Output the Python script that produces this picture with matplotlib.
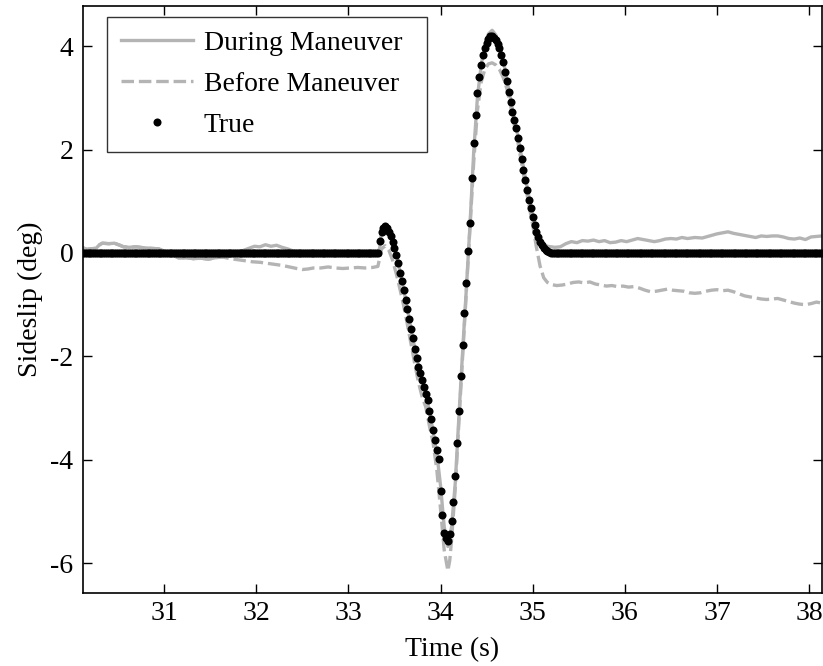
import numpy as np
import matplotlib
matplotlib.use("Agg")
import matplotlib.pyplot as plt

plt.rcParams['font.family'] = ['Liberation Serif', 'DejaVu Serif']
plt.rcParams['lines.scale_dashes'] = False
plt.rcParams['axes.unicode_minus'] = False

# Estimated sideslip, filter tuned during the maneuver (solid)
during_t = [30.12, 30.16, 30.20, 30.26, 30.30, 30.33, 30.40, 30.46, 30.52, 30.56,
            30.62, 30.70, 30.78, 30.86, 30.94, 31.00, 31.06, 31.12, 31.16, 31.24,
            31.32, 31.40, 31.48, 31.56, 31.64, 31.72, 31.80, 31.86, 31.92, 31.98,
            32.04, 32.10, 32.16, 32.22, 32.28, 32.34, 32.40, 32.50, 32.60, 32.70,
            32.80, 32.90, 33.00, 33.10, 33.20, 33.30, 33.32, 33.34, 33.36, 33.40,
            33.44, 33.48, 33.52, 33.56, 33.60, 33.64, 33.68, 33.72, 33.76, 33.80,
            33.84, 33.88, 33.92, 33.96, 34.00, 34.04, 34.08, 34.12, 34.16, 34.20,
            34.24, 34.28, 34.32, 34.36, 34.40, 34.44, 34.48, 34.52, 34.56, 34.60,
            34.64, 34.68, 34.72, 34.76, 34.80, 34.84, 34.88, 34.92, 34.96, 35.00,
            35.04, 35.08, 35.12, 35.16, 35.20, 35.24, 35.30, 35.36, 35.42, 35.48,
            35.54, 35.60, 35.66, 35.72, 35.78, 35.84, 35.90, 35.96, 36.02, 36.08,
            36.14, 36.20, 36.26, 36.32, 36.38, 36.44, 36.50, 36.56, 36.62, 36.68,
            36.76, 36.84, 36.92, 37.00, 37.06, 37.12, 37.18, 37.24, 37.30, 37.36,
            37.42, 37.48, 37.54, 37.60, 37.66, 37.72, 37.78, 37.84, 37.90, 37.96,
            38.02, 38.08, 38.14]
during_beta = [0.10, 0.07, 0.08, 0.09, 0.16, 0.19, 0.18, 0.19, 0.15, 0.12,
               0.11, 0.12, 0.10, 0.09, 0.08, 0.04, 0.00, -0.06, -0.10, -0.09,
               -0.11, -0.10, -0.12, -0.09, -0.07, -0.05, 0.00, 0.05, 0.09, 0.13,
               0.12, 0.16, 0.13, 0.15, 0.11, 0.08, 0.04, 0.02, 0.03, 0.01,
               0.00, 0.02, 0.01, -0.01, 0.01, 0.00, 0.00, 0.10, 0.42, 0.55,
               0.45, 0.25, -0.02, -0.36, -0.70, -1.08, -1.46, -1.84, -2.18, -2.46,
               -2.74, -3.06, -3.46, -3.88, -4.50, -5.30, -5.68, -5.30, -4.45, -3.15,
               -1.90, -0.70, 0.55, 1.95, 3.00, 3.62, 4.02, 4.24, 4.31, 4.22,
               4.02, 3.74, 3.36, 2.97, 2.60, 2.26, 1.86, 1.46, 1.08, 0.74,
               0.45, 0.26, 0.17, 0.13, 0.12, 0.11, 0.12, 0.18, 0.22, 0.20,
               0.24, 0.23, 0.25, 0.22, 0.24, 0.20, 0.21, 0.24, 0.22, 0.25,
               0.28, 0.26, 0.24, 0.22, 0.24, 0.27, 0.28, 0.27, 0.30, 0.28,
               0.30, 0.29, 0.33, 0.37, 0.39, 0.41, 0.38, 0.36, 0.34, 0.32,
               0.30, 0.33, 0.32, 0.33, 0.33, 0.31, 0.28, 0.27, 0.29, 0.26,
               0.31, 0.32, 0.33]

# Estimated sideslip, filter tuned before the maneuver (dashed)
before_t = [30.12, 30.16, 30.20, 30.26, 30.30, 30.33, 30.40, 30.46, 30.52, 30.56,
            30.62, 30.70, 30.78, 30.86, 30.94, 31.00, 31.06, 31.12, 31.16, 31.24,
            31.32, 31.40, 31.48, 31.56, 31.64, 31.72, 31.80, 31.88, 31.96, 32.04,
            32.12, 32.20, 32.28, 32.36, 32.44, 32.50, 32.56, 32.62, 32.70, 32.78,
            32.86, 32.94, 33.02, 33.10, 33.18, 33.26, 33.32, 33.34, 33.36, 33.40,
            33.44, 33.48, 33.52, 33.56, 33.60, 33.64, 33.68, 33.72, 33.76, 33.80,
            33.84, 33.88, 33.92, 33.96, 34.00, 34.04, 34.08, 34.10, 34.12, 34.16,
            34.20, 34.24, 34.28, 34.32, 34.36, 34.40, 34.44, 34.48, 34.52, 34.56,
            34.60, 34.64, 34.68, 34.72, 34.76, 34.80, 34.84, 34.88, 34.92, 34.96,
            35.00, 35.04, 35.08, 35.12, 35.16, 35.20, 35.26, 35.32, 35.38, 35.44,
            35.50, 35.56, 35.62, 35.68, 35.74, 35.80, 35.86, 35.92, 35.98, 36.04,
            36.10, 36.16, 36.22, 36.28, 36.34, 36.40, 36.46, 36.52, 36.58, 36.64,
            36.70, 36.76, 36.82, 36.88, 36.94, 37.00, 37.06, 37.12, 37.18, 37.24,
            37.30, 37.36, 37.42, 37.48, 37.54, 37.60, 37.66, 37.72, 37.78, 37.84,
            37.90, 37.96, 38.02, 38.08, 38.14]
before_beta = [0.10, 0.07, 0.08, 0.09, 0.16, 0.19, 0.18, 0.19, 0.15, 0.12,
               0.11, 0.12, 0.10, 0.09, 0.08, 0.04, 0.00, -0.06, -0.10, -0.09,
               -0.11, -0.10, -0.12, -0.09, -0.08, -0.11, -0.13, -0.15, -0.17, -0.18,
               -0.20, -0.22, -0.24, -0.27, -0.30, -0.32, -0.31, -0.29, -0.29, -0.27,
               -0.29, -0.30, -0.29, -0.28, -0.29, -0.28, -0.26, -0.10, 0.08, 0.14,
               0.05, -0.14, -0.40, -0.70, -1.02, -1.38, -1.76, -2.14, -2.50, -2.78,
               -2.98, -3.35, -3.68, -4.20, -4.95, -5.75, -6.15, -5.95, -5.55, -4.55,
               -3.25, -2.00, -0.75, 0.50, 1.75, 2.75, 3.30, 3.55, 3.66, 3.68,
               3.64, 3.55, 3.40, 3.18, 2.85, 2.48, 2.14, 1.74, 1.32, 0.92,
               0.55, 0.12, -0.25, -0.48, -0.57, -0.61, -0.63, -0.62, -0.60, -0.57,
               -0.56, -0.58, -0.56, -0.60, -0.62, -0.64, -0.63, -0.65, -0.64, -0.66,
               -0.65, -0.68, -0.72, -0.75, -0.74, -0.72, -0.70, -0.72, -0.73, -0.74,
               -0.77, -0.78, -0.77, -0.74, -0.72, -0.71, -0.73, -0.72, -0.75, -0.79,
               -0.83, -0.85, -0.87, -0.89, -0.90, -0.89, -0.88, -0.91, -0.94, -0.97,
               -0.99, -1.00, -0.98, -0.95, -0.97]

# True sideslip, sampled every 0.02 s; zero outside the maneuver
true_start, true_end, true_dt = 30.12, 38.14, 0.02
maneuver_start = 33.34
true_maneuver = [0.24, 0.40, 0.49, 0.52, 0.49, 0.41, 0.32, 0.22, 0.09, -0.04,
                 -0.20, -0.39, -0.55, -0.72, -0.91, -1.09, -1.28, -1.47, -1.65, -1.85,
                 -2.04, -2.20, -2.33, -2.46, -2.60, -2.72, -2.85, -3.05, -3.22, -3.43,
                 -3.62, -3.81, -3.99, -4.61, -5.08, -5.41, -5.52, -5.57, -5.44, -5.18,
                 -4.81, -4.32, -3.68, -3.05, -2.39, -1.79, -1.17, -0.59, 0.03, 0.59,
                 1.45, 2.13, 2.67, 3.10, 3.40, 3.64, 3.83, 3.96, 4.07, 4.15,
                 4.19, 4.20, 4.17, 4.12, 4.05, 3.96, 3.84, 3.70, 3.51, 3.32,
                 3.12, 2.93, 2.73, 2.57, 2.41, 2.22, 2.03, 1.81, 1.61, 1.41,
                 1.22, 1.03, 0.87, 0.70, 0.54, 0.40, 0.30, 0.22, 0.15, 0.10,
                 0.06, 0.03, 0.01]

n_true = int(round((true_end - true_start) / true_dt)) + 1
true_t = true_start + true_dt * np.arange(n_true)
true_beta = np.zeros(n_true)
i0 = int(round((maneuver_start - true_start) / true_dt))
true_beta[i0:i0 + len(true_maneuver)] = true_maneuver

gray = '#b4b4b4'

fig = plt.figure(figsize=(8.23, 6.66), dpi=100)
ax = fig.add_axes([83 / 823, 73 / 666, 739 / 823, 587 / 666])

ax.plot(during_t, during_beta, color=gray, lw=2.4, label='During Maneuver')
ax.plot(before_t, before_beta, color=gray, lw=2.4, linestyle='--',
        dashes=(9, 3.5), label='Before Maneuver')
ax.plot(true_t, true_beta, 'o', color='k', ms=5.8, mew=0, label='True')

ax.set_xlim(30.12, 38.14)
ax.set_ylim(-6.58, 4.78)
ax.set_xticks(range(31, 39))
ax.set_yticks([-6, -4, -2, 0, 2, 4])

for side in ax.spines.values():
    side.set_linewidth(1.2)
ax.tick_params(direction='in', length=6.5, width=1.0, labelsize=20,
               top=True, right=True, pad=6)
ax.tick_params(axis='y', pad=7)

ax.set_xlabel('Time (s)', fontsize=20, labelpad=8)
ax.set_ylabel('Sideslip (deg)', fontsize=20, labelpad=5)

# legend box stretched to a fixed width, text left-aligned inside it
leg = ax.legend(loc='upper left', bbox_to_anchor=(0.0325, 0.762, 0.433, 0.22),
                mode='expand', borderaxespad=0, fontsize=20, frameon=True,
                fancybox=False, edgecolor='k', handlelength=2.6,
                handletextpad=0.38, labelspacing=0.56, borderpad=0.5,
                numpoints=1)
leg.get_frame().set_linewidth(1.0)

fig.savefig('out.png', dpi=100)
